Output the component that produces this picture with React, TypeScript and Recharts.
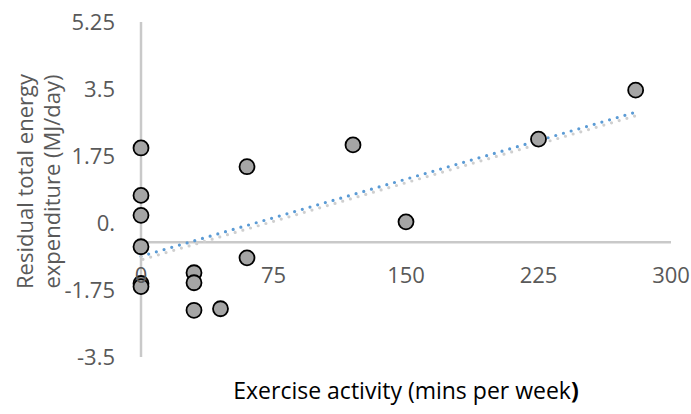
import React from 'react';
import { ScatterChart, Scatter, XAxis, YAxis, ReferenceLine, Label } from 'recharts';

// Exercise activity (mins/week) vs residual total energy expenditure (MJ/day)
const exerciseMins = [0, 0, 0, 0, 0, 0, 30, 30, 30, 45, 60, 60, 120, 150, 225, 280];
const residualTEE = [1.96, 0.72, 0.2, -0.62, -1.58, -1.66, -1.3, -1.56, -2.28, -2.24, -0.91, 1.47, 2.04, 0.03, 2.19, 3.47];

// linear trend line end points
const trendMins = [0, 279];
const trendTEE = [-0.87, 2.88];

const xTicks = [0, 75, 150, 225, 300];
const yTicks = [-3.5, -1.75, 0, 1.75, 3.5, 5.25];
const xAxisCrossing = -0.5;

const points = exerciseMins.map((m, i) => ({ mins: m, tee: residualTEE[i] }));

const FONT = '"Open Sans", sans-serif';
const GREY_TEXT = '#595959';
const AXIS_GREY = '#c9c9c9';

const Dot = (p: any) => (
  <circle cx={p.cx} cy={p.cy} r={7.5} fill="#a5a5a5" stroke="#000" strokeWidth={1.8} />
);

// x tick labels sit under the crossing line, not at the plot bottom
const XTick = (p: any) => (
  <text
    x={p.x}
    y={p.y - 83}
    textAnchor="middle"
    dominantBaseline="central"
    fill={GREY_TEXT}
    fontSize={22}
    fontFamily={FONT}
  >
    {p.payload.value}
  </text>
);

const YTitle = (p: any) => {
  const vb = p.viewBox;
  const cy = vb.y + vb.height / 2 - 8;
  return (
    <g fill={GREY_TEXT} fontSize={22} fontFamily={FONT}>
      <text x={vb.x + 24} y={cy} textAnchor="middle" dominantBaseline="central" transform={`rotate(-90 ${vb.x + 24} ${cy})`}>
        Residual total energy
      </text>
      <text x={vb.x + 51} y={cy} textAnchor="middle" dominantBaseline="central" transform={`rotate(-90 ${vb.x + 51} ${cy})`}>
        expenditure (MJ/day)
      </text>
    </g>
  );
};

const XTitle = (p: any) => {
  const vb = p.viewBox;
  return (
    <text
      x={vb.x + vb.width / 2}
      y={vb.y + 42}
      textAnchor="middle"
      fill="#000"
      fontSize={23}
      fontFamily={FONT}
    >
      Exercise activity (mins per week<tspan fontWeight="bold">)</tspan>
    </text>
  );
};

export default function App() {
  const seg = [
    { x: trendMins[0], y: trendTEE[0] },
    { x: trendMins[1], y: trendTEE[1] },
  ];
  return (
    <div style={{ position: 'absolute', left: 0, top: 0, width: 691, height: 414, background: '#fff' }}>
      <ScatterChart width={691} height={414} margin={{ top: 22, right: 20, bottom: 0, left: 0 }}>
        <XAxis
          type="number"
          dataKey="mins"
          domain={[0, 300]}
          ticks={xTicks}
          height={57}
          axisLine={false}
          tickLine={false}
          tickSize={0}
          tickMargin={0}
          tick={<XTick />}
          interval={0}
        >
          <Label content={<XTitle />} />
        </XAxis>
        <YAxis
          type="number"
          dataKey="tee"
          domain={[-3.5, 5.25]}
          ticks={yTicks}
          width={141}
          axisLine={{ stroke: AXIS_GREY, strokeWidth: 2.5 }}
          tickLine={false}
          tickSize={0}
          tickMargin={26}
          interval={0}
          tickFormatter={(v: number) => (v === 0 ? '0.' : String(v))}
          tick={{ fill: GREY_TEXT, fontSize: 22, fontFamily: FONT }}
        >
          <Label content={<YTitle />} />
        </YAxis>
        <ReferenceLine y={xAxisCrossing} stroke={AXIS_GREY} strokeWidth={2.5} />
        <Scatter data={points} shape={<Dot />} isAnimationActive={false} />
        <ReferenceLine
          segment={seg}
          stroke="#cfcfcf"
          strokeWidth={3.2}
          strokeDasharray="0 8"
          strokeLinecap="round"
          transform="translate(2,3)"
        />
        <ReferenceLine
          segment={seg}
          stroke="#5b9bd5"
          strokeWidth={3.2}
          strokeDasharray="0 8"
          strokeLinecap="round"
        />
      </ScatterChart>
    </div>
  );
}
